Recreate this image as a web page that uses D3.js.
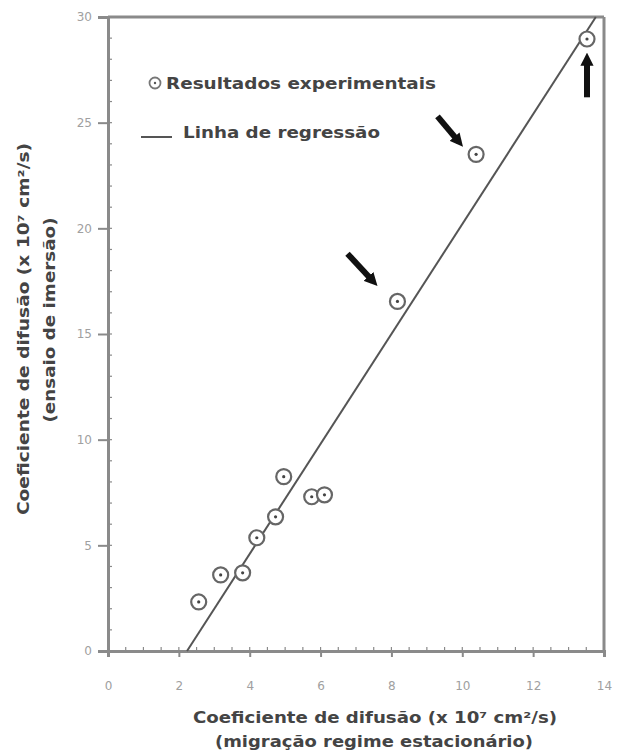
<!DOCTYPE html>
<html>
<head>
<meta charset="utf-8">
<script src="https://cdn.jsdelivr.net/npm/d3@7"></script>
<style>
  body { margin: 0; background: #fff; }
  svg text { font-family: "DejaVu Sans", Arial, sans-serif; }
</style>
</head>
<body>
<div id="chart"></div>
<script>
// data
const xValues = [2.56, 3.18, 3.80, 4.20, 4.73, 4.96, 5.75, 6.11, 8.17, 10.39, 13.52]
const yValues = [2.32, 3.60, 3.70, 5.36, 6.35, 8.25, 7.30, 7.39, 16.54, 23.5, 28.96]
const xTicks = [0, 2, 4, 6, 8, 10, 12, 14]
const yTicks = [0, 5, 10, 15, 20, 25, 30]
const regSlope = 2.6
const regIntercept = -5.8
// arrows: [tailX, tailY, headX, headY] in data units
const arrows = [
  [6.76, 18.8, 7.48, 17.5],
  [9.30, 25.3, 9.90, 24.1],
  [13.52, 26.2, 13.52, 28.0]
]

const width = 618
const height = 751
const margin = {top: 17, right: 10, bottom: 100, left: 108}

const svg = d3.select("#chart").append("svg")
    .attr("width", width)
    .attr("height", height)

const x = d3.scaleLinear().domain([0, 14]).range([margin.left, 604])
const y = d3.scaleLinear().domain([0, 30]).range([651, margin.top])

const grey = "#8a8a8a"
const ink = "#444"

// arrow head marker
svg.append("defs").append("marker")
    .attr("id", "head")
    .attr("viewBox", "0 0 10 10")
    .attr("refX", 5).attr("refY", 5)
    .attr("markerWidth", 2.2).attr("markerHeight", 2.2)
    .attr("orient", "auto")
  .append("path")
    .attr("d", "M0,0 L10,5 L0,10 z")
    .attr("fill", "#111")

// axes
const xAxis = svg.append("g")
    .attr("transform", `translate(0,${y(0)})`)
    .call(d3.axisBottom(x).tickValues(xTicks).tickSize(6).tickPadding(24))
const yAxis = svg.append("g")
    .attr("transform", `translate(${x(0)},0)`)
    .call(d3.axisLeft(y).tickValues(yTicks).tickSize(10).tickPadding(6))

// minor inward ticks
svg.append("g").selectAll("line")
  .data(d3.range(0, 14.01, 0.5))
  .join("line")
    .attr("x1", d => x(d)).attr("x2", d => x(d))
    .attr("y1", y(0)).attr("y2", y(0) - 4)
    .attr("stroke", grey).attr("stroke-width", 1.2)
svg.append("g").selectAll("line")
  .data(d3.range(0, 30.01, 1))
  .join("line")
    .attr("x1", x(0)).attr("x2", x(0) + 4)
    .attr("y1", d => y(d)).attr("y2", d => y(d))
    .attr("stroke", grey).attr("stroke-width", 1.2)

for (const ax of [xAxis, yAxis]) {
  ax.select(".domain").attr("stroke", grey).attr("stroke-width", 3)
  ax.selectAll(".tick line").attr("stroke", grey).attr("stroke-width", 2)
  ax.selectAll(".tick text")
      .attr("fill", "#a0a0a0")
      .attr("font-size", 12)
}

// top and right frame
svg.append("line")
    .attr("x1", x(0)).attr("x2", x(14))
    .attr("y1", y(30)).attr("y2", y(30))
    .attr("stroke", grey).attr("stroke-width", 3)
svg.append("line")
    .attr("x1", x(14)).attr("x2", x(14))
    .attr("y1", y(30)).attr("y2", y(0))
    .attr("stroke", grey).attr("stroke-width", 3)

// regression line, clipped to frame
const xStart = -regIntercept / regSlope
const xEnd = (30 - regIntercept) / regSlope
svg.append("line")
    .attr("x1", x(xStart)).attr("y1", y(regSlope * xStart + regIntercept))
    .attr("x2", x(xEnd)).attr("y2", y(regSlope * xEnd + regIntercept))
    .attr("stroke", "#555").attr("stroke-width", 2)

// experimental points
const pts = svg.append("g").selectAll("g")
  .data(xValues.map((v, i) => [v, yValues[i]]))
  .join("g")
    .attr("transform", d => `translate(${x(d[0])},${y(d[1])})`)
pts.append("circle")
    .attr("r", 7.5)
    .attr("fill", "#fff")
    .attr("stroke", "#666")
    .attr("stroke-width", 2.2)
pts.append("circle")
    .attr("r", 1.6)
    .attr("fill", "#444")

// arrows
svg.append("g").selectAll("line")
  .data(arrows)
  .join("line")
    .attr("x1", d => x(d[0])).attr("y1", d => y(d[1]))
    .attr("x2", d => x(d[2])).attr("y2", d => y(d[3]))
    .attr("stroke", "#111")
    .attr("stroke-width", 6)
    .attr("marker-end", "url(#head)")

// legend
const legend = svg.append("g")
const lg1 = legend.append("g").attr("transform", "translate(155,83)")
lg1.append("circle").attr("r", 5.5).attr("fill", "#fff")
    .attr("stroke", "#777").attr("stroke-width", 1.8)
lg1.append("circle").attr("r", 1.2).attr("fill", "#555")
legend.append("text")
    .attr("x", 166).attr("y", 89)
    .attr("font-size", 15).attr("font-weight", "bold").attr("fill", ink)
    .attr("textLength", 270).attr("lengthAdjust", "spacingAndGlyphs")
    .text("Resultados experimentais")
legend.append("line")
    .attr("x1", 141).attr("x2", 172).attr("y1", 137).attr("y2", 137)
    .attr("stroke", "#555").attr("stroke-width", 2)
legend.append("text")
    .attr("x", 183).attr("y", 138)
    .attr("font-size", 15).attr("font-weight", "bold").attr("fill", ink)
    .attr("textLength", 197).attr("lengthAdjust", "spacingAndGlyphs")
    .text("Linha de regressão")

// axis titles
const titleStyle = s => s.attr("font-size", 15).attr("font-weight", "bold")
    .attr("fill", ink).attr("text-anchor", "middle")
svg.append("text")
    .attr("x", 375).attr("y", 723)
    .call(titleStyle)
    .attr("textLength", 364).attr("lengthAdjust", "spacingAndGlyphs")
    .text("Coeficiente de difusão (x 10⁷ cm²/s)")
svg.append("text")
    .attr("x", 374).attr("y", 747)
    .call(titleStyle)
    .attr("textLength", 318).attr("lengthAdjust", "spacingAndGlyphs")
    .text("(migração regime estacionário)")

svg.append("text")
    .attr("transform", "translate(29,329) rotate(-90)")
    .call(titleStyle)
    .attr("textLength", 372).attr("lengthAdjust", "spacingAndGlyphs")
    .text("Coeficiente de difusão (x 10⁷ cm²/s)")
svg.append("text")
    .attr("transform", "translate(55,320) rotate(-90)")
    .call(titleStyle)
    .attr("textLength", 205).attr("lengthAdjust", "spacingAndGlyphs")
    .text("(ensaio de imersão)")
</script>
</body>
</html>
